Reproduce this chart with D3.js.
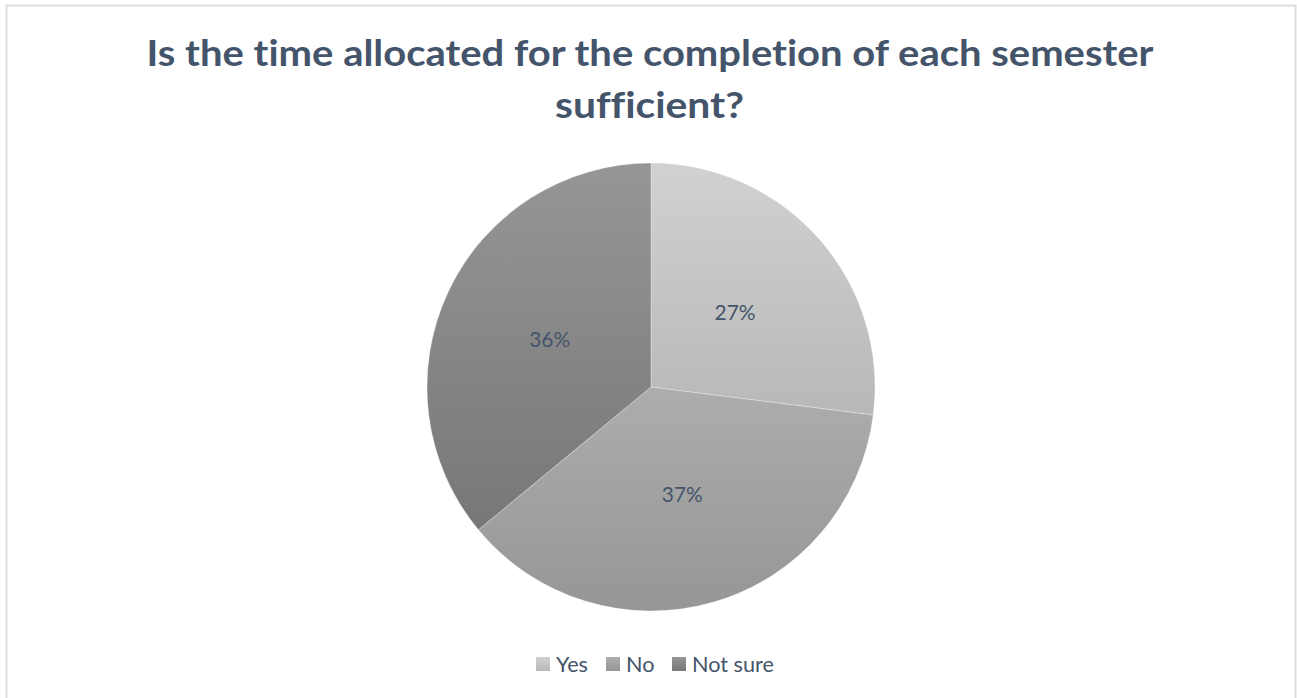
<!DOCTYPE html>
<html><head><meta charset="utf-8">
<script src="https://cdn.jsdelivr.net/npm/d3@7"></script>
<style>html,body{margin:0;padding:0;background:#fff;}svg{display:block;}text{font-variant-ligatures:none;}</style>
</head><body>
<svg id="chart" width="1297" height="698"></svg>
<script>
const titleLines = ["Is the time allocated for the completion of each semester", "sufficient?"];
const categories = ["Yes", "No", "Not sure"];
const values = [27, 37, 36];
const topColors = ["#d1d1d1", "#adadad", "#969696"];
const bottomColors = ["#b8b8b8", "#969696", "#777777"];

const W = 1297, H = 698;
const svg = d3.select("#chart");
const FONT = "Lato, 'Open Sans', sans-serif";
const TXT = "#44546a";

// border
svg.append("rect").attr("x", 6.5).attr("y", 5.5).attr("width", 1289).attr("height", 700)
  .attr("fill", "#fff").attr("stroke", "#dadde2").attr("stroke-width", 2);

const defs = svg.append("defs");
categories.forEach((c, i) => {
  const g = defs.append("linearGradient").attr("id", "g" + i)
    .attr("x1", 0).attr("y1", 0).attr("x2", 0).attr("y2", 1);
  g.append("stop").attr("offset", 0).attr("stop-color", topColors[i]);
  g.append("stop").attr("offset", 1).attr("stop-color", bottomColors[i]);
});

function fit(sel, target) {
  const fs = parseFloat(sel.attr("font-size"));
  const w = sel.node().getComputedTextLength();
  sel.attr("font-size", fs * target / w);
}

// title (condensed to mimic the narrow bold face)
const titleSpecs = [{y: 66, w: 1007, x: 650}, {y: 118, w: 189, x: 649.5}];
titleLines.forEach((line, i) => {
  svg.append("text").attr("x", titleSpecs[i].x).attr("y", titleSpecs[i].y).attr("text-anchor", "middle")
    .attr("font-family", FONT).attr("font-weight", 700).attr("font-size", 37).attr("fill", TXT)
    .attr("textLength", titleSpecs[i].w).attr("lengthAdjust", "spacingAndGlyphs")
    .text(line);
});

// pie
const cx = 651, cy = 387, R = 224;
const pie = d3.pie().sort(null).value(d => d)(values);
const arc = d3.arc().innerRadius(0).outerRadius(R);
const labelArc = d3.arc().innerRadius(R * 0.5).outerRadius(R * 0.5);
const g = svg.append("g").attr("transform", `translate(${cx},${cy})`);
g.selectAll("path").data(pie).join("path")
  .attr("d", arc).attr("fill", (d, i) => `url(#g${i})`)
  .attr("stroke", "#fff").attr("stroke-width", 0.5).attr("stroke-opacity", 0.6);

const labels = g.selectAll("text.lbl").data(pie).join("text").attr("class", "lbl")
  .attr("transform", d => `translate(${labelArc.centroid(d)})`)
  .attr("text-anchor", "middle").attr("dy", "0.35em")
  .attr("font-family", FONT).attr("font-size", 20).attr("fill", TXT)
  .text(d => d.data + "%");
const probe = labels.filter((d, i) => i === 0);
fit(probe, 41);
labels.attr("font-size", probe.attr("font-size"));

// legend
const legendX = [536, 606, 672];
const lg = svg.append("g");
const items = lg.selectAll("g").data(categories).join("g")
  .attr("transform", (d, i) => `translate(${legendX[i]},0)`);
items.append("rect").attr("x", 0).attr("y", 657).attr("width", 14).attr("height", 14)
  .attr("fill", (d, i) => `url(#g${i})`);
const ltxt = items.append("text").attr("x", 20).attr("y", 664).attr("dy", "0.35em")
  .attr("font-family", FONT).attr("font-size", 20).attr("fill", TXT).text(d => d);
const lp = ltxt.filter((d, i) => i === 2);
fit(lp, 82);
ltxt.attr("font-size", lp.attr("font-size"));
</script>
</body></html>
